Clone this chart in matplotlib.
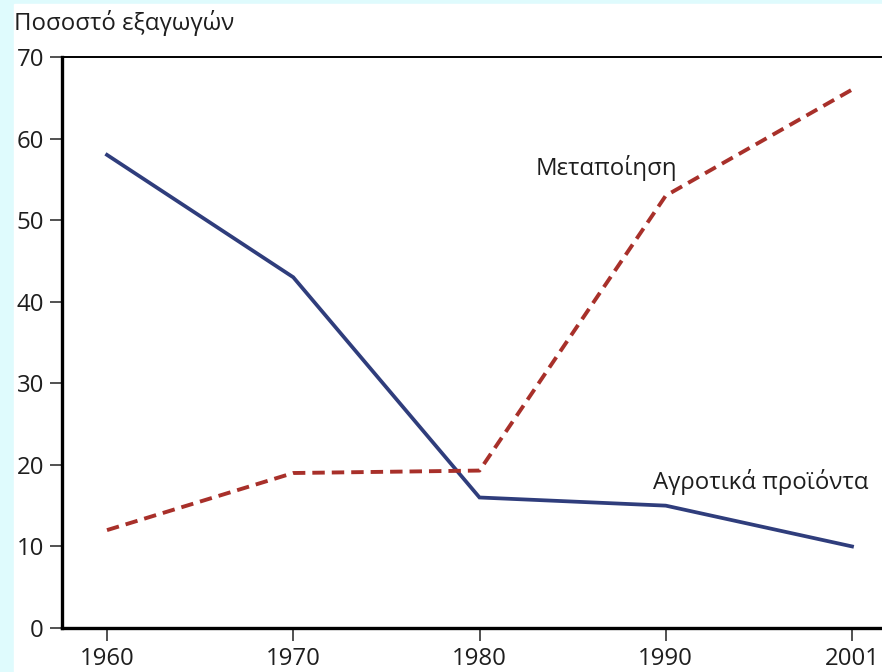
import numpy as np
import matplotlib.pyplot as plt

plt.rcParams['font.family'] = ['Open Sans', 'DejaVu Sans']

years = ['1960', '1970', '1980', '1990', '2001']
agriculture = [58, 43, 16, 15, 10]
manufacturing = [12, 19, 19.3, 53, 66]
yticks = [0, 10, 20, 30, 40, 50, 60, 70]

fs = 17.3

fig = plt.figure(figsize=(8.82, 6.72), dpi=100)
fig.patch.set_facecolor('#dffbfd')
# white panel (cyan strip on the left and top)
fig.add_artist(plt.Rectangle((14 / 882, 0), 1, 1 - 4 / 672,
                             transform=fig.transFigure, color='white', zorder=0))

ax = fig.add_axes([62 / 882, 44 / 672, 1.0, (628 - 57) / 672])
ax.set_facecolor('white')
x = np.arange(len(years))
ax.plot(x, agriculture, color='#2f3d7c', lw=2.7, solid_joinstyle='miter')
ax.plot(x, manufacturing, color='#a8302a', lw=2.8, ls=(0, (3.2, 1.8)))

# x range chosen so 1960 sits at 107px and each step is ~186px
step = 186.25
ax.set_xlim(-(107 - 62) / step, -(107 - 62) / step + 882 / step)
ax.set_ylim(0, 70)
ax.set_xticks(x)
ax.set_xticklabels(years)
ax.set_yticks(yticks)

ax.spines['right'].set_visible(False)
ax.spines['left'].set_linewidth(2.4)
ax.spines['bottom'].set_linewidth(2.4)
ax.spines['top'].set_linewidth(1.4)
ax.tick_params(axis='both', labelsize=fs, color='#333333', width=1.2,
               length=9, labelcolor='#1e1e1e')
ax.tick_params(axis='x', pad=5)
ax.tick_params(axis='y', pad=4)

ax.text(2.68, 56.4, 'Μεταποίηση', fontsize=fs, color='#1e1e1e', ha='center', va='center')
ax.text(2.93, 17.9, 'Αγροτικά προϊόντα', fontsize=fs, color='#1e1e1e', ha='left', va='center')

fig.text(14 / 882, 1 - 23 / 672, 'Ποσοστό εξαγωγών', fontsize=fs, color='#1e1e1e',
         ha='left', va='center')

fig.savefig('out.png', dpi=100, facecolor=fig.get_facecolor())
